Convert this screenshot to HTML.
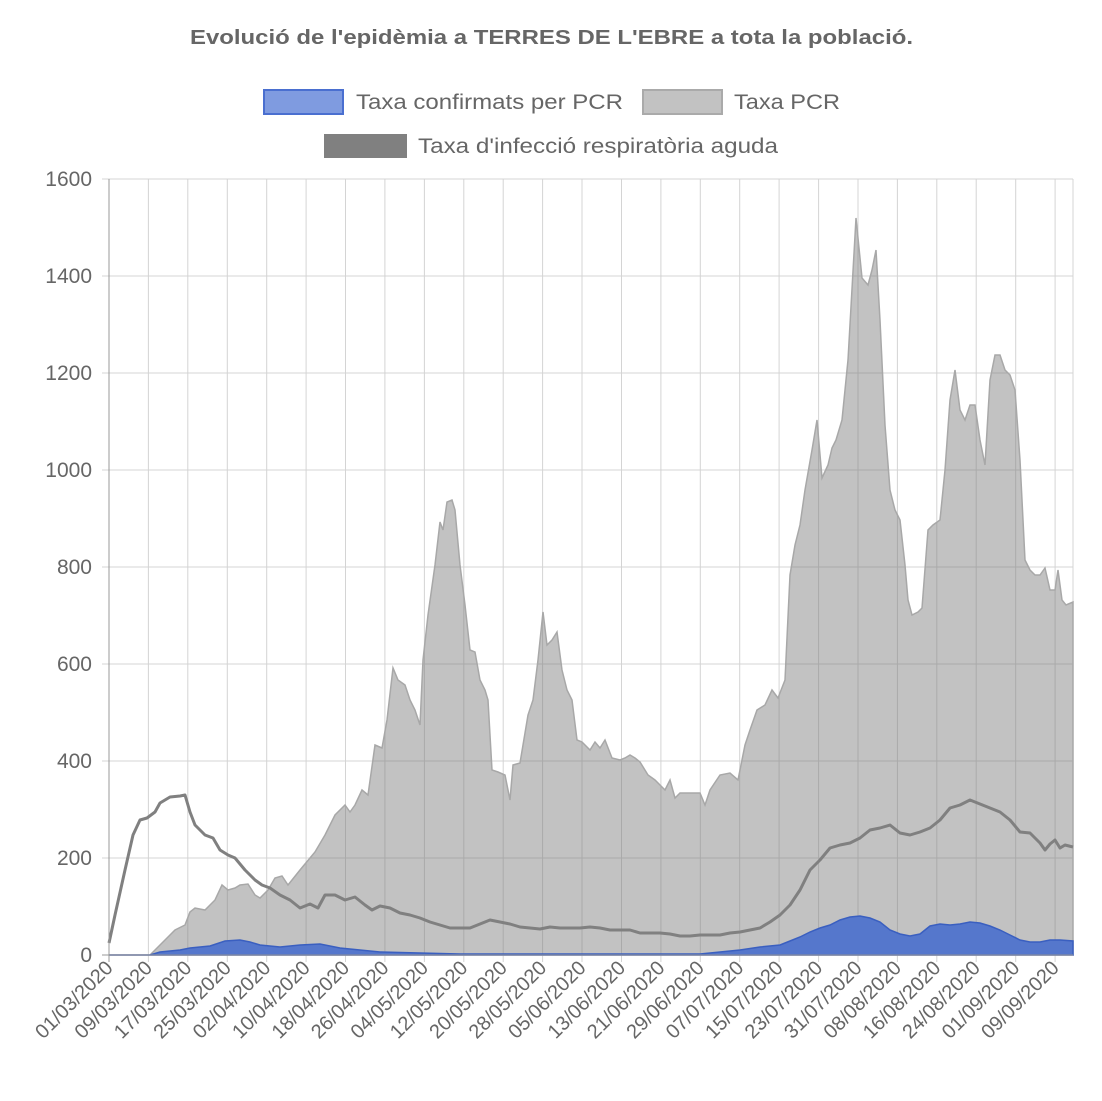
<!DOCTYPE html>
<html><head><meta charset="utf-8"><style>
body{margin:0;background:#fff;}
svg text{font-family:"Liberation Sans",Arial,sans-serif;fill:#666;}
</style></head><body>
<svg width="1102" height="1096" viewBox="0 0 1102 1096" xmlns="http://www.w3.org/2000/svg">
<text x="190" y="44" font-size="20" font-weight="bold" fill="#555" textLength="723" lengthAdjust="spacingAndGlyphs">Evolució de l'epidèmia a TERRES DE L'EBRE a tota la població.</text>
<rect x="264" y="90" width="79" height="24" fill="#7f9be0" stroke="#4a6fd0" stroke-width="2"/>
<text x="356" y="109" font-size="21" textLength="267" lengthAdjust="spacingAndGlyphs">Taxa confirmats per PCR</text>
<rect x="643" y="90" width="79" height="24" fill="#c2c2c2" stroke="#aaa" stroke-width="2"/>
<text x="734" y="109" font-size="21" textLength="106" lengthAdjust="spacingAndGlyphs">Taxa PCR</text>
<rect x="324" y="134" width="83" height="24" fill="#808080"/>
<text x="418" y="153" font-size="21" textLength="360" lengthAdjust="spacingAndGlyphs">Taxa d'infecció respiratòria aguda</text>
<g stroke="#d4d4d4" stroke-width="1">
<line x1="102" x2="1073" y1="179" y2="179"/><line x1="102" x2="1073" y1="276" y2="276"/><line x1="102" x2="1073" y1="373" y2="373"/><line x1="102" x2="1073" y1="470" y2="470"/><line x1="102" x2="1073" y1="567" y2="567"/><line x1="102" x2="1073" y1="664" y2="664"/><line x1="102" x2="1073" y1="761" y2="761"/><line x1="102" x2="1073" y1="858" y2="858"/>
<line x1="148.4" x2="148.4" y1="179" y2="962"/><line x1="187.8" x2="187.8" y1="179" y2="962"/><line x1="227.3" x2="227.3" y1="179" y2="962"/><line x1="266.7" x2="266.7" y1="179" y2="962"/><line x1="306.1" x2="306.1" y1="179" y2="962"/><line x1="345.5" x2="345.5" y1="179" y2="962"/><line x1="384.9" x2="384.9" y1="179" y2="962"/><line x1="424.4" x2="424.4" y1="179" y2="962"/><line x1="463.8" x2="463.8" y1="179" y2="962"/><line x1="503.2" x2="503.2" y1="179" y2="962"/><line x1="542.6" x2="542.6" y1="179" y2="962"/><line x1="582" x2="582" y1="179" y2="962"/><line x1="621.5" x2="621.5" y1="179" y2="962"/><line x1="660.9" x2="660.9" y1="179" y2="962"/><line x1="700.3" x2="700.3" y1="179" y2="962"/><line x1="739.7" x2="739.7" y1="179" y2="962"/><line x1="779.1" x2="779.1" y1="179" y2="962"/><line x1="818.6" x2="818.6" y1="179" y2="962"/><line x1="858" x2="858" y1="179" y2="962"/><line x1="897.4" x2="897.4" y1="179" y2="962"/><line x1="936.8" x2="936.8" y1="179" y2="962"/><line x1="976.2" x2="976.2" y1="179" y2="962"/><line x1="1015.7" x2="1015.7" y1="179" y2="962"/><line x1="1055.1" x2="1055.1" y1="179" y2="962"/><line x1="1073" x2="1073" y1="179" y2="955"/>
</g>
<g font-size="21" text-anchor="end">
<text x="92" y="962">0</text><text x="92" y="865">200</text><text x="92" y="768">400</text><text x="92" y="671">600</text><text x="92" y="574">800</text><text x="92" y="477">1000</text><text x="92" y="380">1200</text><text x="92" y="283">1400</text><text x="92" y="186">1600</text>
</g>
<path fill="rgba(120,120,120,0.45)" stroke="#a8a8a8" stroke-width="1.5" d="M109 955 L150 955 160 945 170 935 175 930 185 925 190 912 195 908 205 910 215 900 222 885 228 890 235 888 240 885 248 884 255 895 260 898 268 890 275 878 282 876 288 885 292 880 300 870 315 852 325 835 335 815 345 805 350 812 355 805 362 790 368 795 375 745 382 748 387 720 393 668 398 680 405 685 410 700 415 710 420 725 423 660 428 615 435 565 440 522 443 530 447 502 452 500 455 510 460 565 465 605 470 650 475 652 480 680 485 690 488 700 492 770 498 772 505 775 510 800 513 765 520 763 528 715 533 700 538 660 543 612 547 645 552 640 557 632 562 670 567 690 572 700 577 740 582 742 590 750 595 742 600 748 605 740 612 758 620 760 625 758 630 755 635 758 640 762 648 775 655 780 660 785 665 790 670 780 675 798 680 793 690 793 700 793 705 805 710 790 720 775 730 773 738 780 745 745 750 730 757 710 765 705 772 690 778 698 785 680 790 575 795 545 800 525 805 490 812 450 817 420 822 478 828 465 832 448 836 440 842 420 848 360 856 218 862 278 868 285 872 270 876 250 880 320 885 425 890 490 895 510 900 520 905 565 908 600 912 615 918 612 922 608 928 530 933 525 940 520 945 470 950 400 955 370 960 410 965 420 970 405 975 405 980 440 985 465 990 380 995 355 1000 355 1005 370 1010 375 1015 390 1020 460 1025 560 1030 570 1035 575 1040 575 1045 568 1050 590 1055 590 1058 570 1062 600 1066 605 1073 602 1073 955 Z"/>
<path fill="#5577cc" stroke="#3a5fc0" stroke-width="1.5" d="M109 955 L150 955 160 952 180 950 190 948 210 946 225 941 240 940 250 942 260 945 280 947 300 945 320 944 340 948 360 950 380 952 420 953 460 954 500 954 600 954 700 954 720 952 740 950 760 947 780 945 790 941 800 937 810 932 820 928 830 925 840 920 850 917 860 916 870 918 880 922 890 930 900 934 910 936 920 934 930 926 940 924 950 925 960 924 970 922 980 923 990 926 1000 930 1010 935 1020 940 1030 942 1040 942 1050 940 1060 940 1073 941 L1073 955 Z"/>
<polyline fill="none" stroke="#808080" stroke-width="3" stroke-linejoin="round" points="109,943 115,915 125,870 133,835 140,820 147,818 155,812 160,803 170,797 180,796 185,795 190,812 195,825 205,835 213,838 220,850 228,855 235,858 245,870 255,880 262,885 270,888 280,895 290,900 300,908 310,904 318,908 325,895 335,895 345,900 355,897 365,905 372,910 380,906 390,908 400,913 410,915 420,918 430,922 440,925 450,928 460,928 470,928 480,924 490,920 500,922 510,924 520,927 530,928 540,929 550,927 560,928 570,928 580,928 590,927 600,928 610,930 620,930 630,930 640,933 650,933 660,933 670,934 680,936 690,936 700,935 710,935 720,935 730,933 740,932 750,930 760,928 770,922 780,915 790,905 800,890 810,870 820,860 830,848 840,845 850,843 860,838 870,830 880,828 890,825 900,833 910,835 920,832 930,828 940,820 950,808 960,805 970,800 980,804 990,808 1000,812 1010,820 1020,832 1030,833 1040,843 1045,850 1050,844 1055,840 1060,848 1065,845 1073,847"/>
<line x1="109" y1="179" x2="109" y2="962" stroke="#999"/>
<line x1="102" y1="955" x2="1073" y2="955" stroke="#999"/>
<g font-size="20" text-anchor="end">
<text transform="translate(114,969) rotate(-45)">01/03/2020</text>
<text transform="translate(153.4,969) rotate(-45)">09/03/2020</text>
<text transform="translate(192.8,969) rotate(-45)">17/03/2020</text>
<text transform="translate(232.3,969) rotate(-45)">25/03/2020</text>
<text transform="translate(271.7,969) rotate(-45)">02/04/2020</text>
<text transform="translate(311.1,969) rotate(-45)">10/04/2020</text>
<text transform="translate(350.5,969) rotate(-45)">18/04/2020</text>
<text transform="translate(389.9,969) rotate(-45)">26/04/2020</text>
<text transform="translate(429.4,969) rotate(-45)">04/05/2020</text>
<text transform="translate(468.8,969) rotate(-45)">12/05/2020</text>
<text transform="translate(508.2,969) rotate(-45)">20/05/2020</text>
<text transform="translate(547.6,969) rotate(-45)">28/05/2020</text>
<text transform="translate(587,969) rotate(-45)">05/06/2020</text>
<text transform="translate(626.5,969) rotate(-45)">13/06/2020</text>
<text transform="translate(665.9,969) rotate(-45)">21/06/2020</text>
<text transform="translate(705.3,969) rotate(-45)">29/06/2020</text>
<text transform="translate(744.7,969) rotate(-45)">07/07/2020</text>
<text transform="translate(784.1,969) rotate(-45)">15/07/2020</text>
<text transform="translate(823.6,969) rotate(-45)">23/07/2020</text>
<text transform="translate(863,969) rotate(-45)">31/07/2020</text>
<text transform="translate(902.4,969) rotate(-45)">08/08/2020</text>
<text transform="translate(941.8,969) rotate(-45)">16/08/2020</text>
<text transform="translate(981.2,969) rotate(-45)">24/08/2020</text>
<text transform="translate(1020.7,969) rotate(-45)">01/09/2020</text>
<text transform="translate(1060.1,969) rotate(-45)">09/09/2020</text>
</g>
</svg>
</body></html>
